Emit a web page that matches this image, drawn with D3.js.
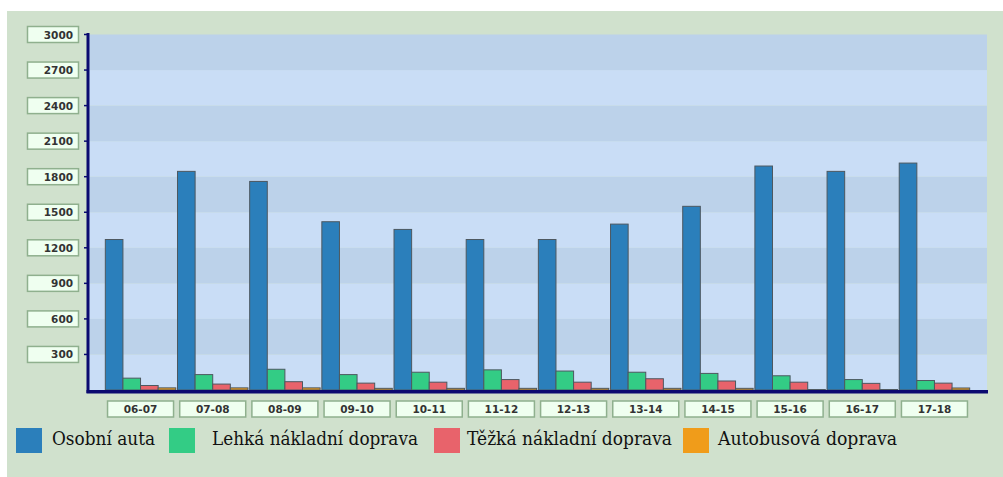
<!DOCTYPE html>
<html><head><meta charset="utf-8">
<script src="https://cdn.jsdelivr.net/npm/d3@7"></script>
<style>html,body{margin:0;padding:0;background:#fff;}svg{display:block;}
.lgt{font-family:"DejaVu Serif",serif;}</style>
</head><body>
<svg id="c" width="1003" height="477"></svg>
<script>
const categories = ["06-07","07-08","08-09","09-10","10-11","11-12","12-13","13-14","14-15","15-16","16-17","17-18"];
const seriesNames = ["Osobní auta","Lehká nákladní doprava","Těžká nákladní doprava","Autobusová doprava"];
const osobniAuta   = [1270,1845,1760,1420,1355,1270,1270,1400,1550,1890,1845,1915];
const lehkaNakladni = [100,130,175,130,150,170,160,150,140,120,88,80];
const tezkaNakladni = [38,50,70,58,66,88,66,95,76,66,56,58];
const autobusova    = [18,18,18,14,14,14,14,14,14,4,4,17];
const yTicks = [300,600,900,1200,1500,1800,2100,2400,2700,3000];
const colors = ["#2b7fbb","#33cc85","#e8636b","#f09c1a"];
const seriesValues = [osobniAuta, lehkaNakladni, tezkaNakladni, autobusova];

(function(){
const svg = d3.select("#c");
svg.append("rect").attr("x",7).attr("y",11).attr("width",996).attr("height",466).attr("fill","#d0e1cd");

const pL = 88, pR = 987, pT = 34.5, pB = 390;
const y = d3.scaleLinear().domain([0,3000]).range([pB, pT]);
const x0 = d3.scaleBand().domain(categories).range([pL, pR]).paddingInner(0.024).paddingOuter(0.24);
const x1 = d3.scaleBand().domain(d3.range(seriesNames.length)).range([0, x0.bandwidth()]).padding(0);

const bandEdges = [0].concat(yTicks);
for (let i = 0; i < bandEdges.length - 1; i++) {
  svg.append("rect")
    .attr("x", pL).attr("width", pR - pL)
    .attr("y", y(bandEdges[i+1])).attr("height", y(bandEdges[i]) - y(bandEdges[i+1]))
    .attr("fill", i % 2 === 1 ? "#bcd2ea" : "#c9ddf6");
}

const g = svg.append("g");
categories.forEach((c, ci) => {
  seriesValues.forEach((vals, si) => {
    const v = vals[ci];
    g.append("rect")
      .attr("x", x0(c) + x1(si))
      .attr("y", y(v))
      .attr("width", x1.bandwidth())
      .attr("height", y(0) - y(v))
      .attr("fill", colors[si])
      .attr("stroke", "#4d5860").attr("stroke-width", 1);
  });
});

const yl = svg.append("g");
yTicks.forEach(t => {
  const yy = y(t);
  yl.append("rect").attr("x", 27.5).attr("y", yy - 8).attr("width", 51).attr("height", 16)
    .attr("fill", "#effff0").attr("stroke", "#8fb08e").attr("stroke-width", 1.5);
  yl.append("text").attr("x", 73).attr("y", yy + 4).attr("text-anchor", "end")
    .attr("font-family", "DejaVu Sans").attr("font-size", 10.5).attr("font-weight", "bold")
    .attr("fill", "#333").text(t);
  yl.append("line").attr("x1", 84).attr("x2", 88).attr("y1", yy).attr("y2", yy)
    .attr("stroke", "#0a0a70").attr("stroke-width", 1.5);
});

svg.append("line").attr("x1", pL).attr("x2", pL).attr("y1", pT - 1.5).attr("y2", pB + 3)
  .attr("stroke", "#0a0a70").attr("stroke-width", 3);
svg.append("line").attr("x1", pL - 1.5).attr("x2", pR + 1).attr("y1", pB + 1.8).attr("y2", pB + 1.8)
  .attr("stroke", "#0a0a70").attr("stroke-width", 3.5);

const xl = svg.append("g");
categories.forEach(c => {
  const cx = x0(c) + x0.bandwidth() / 2;
  xl.append("rect").attr("x", cx - 33).attr("y", 401).attr("width", 66).attr("height", 16)
    .attr("fill", "#effff0").attr("stroke", "#8fb08e").attr("stroke-width", 1.5);
  xl.append("text").attr("x", cx).attr("y", 413).attr("text-anchor", "middle")
    .attr("font-family", "DejaVu Sans").attr("font-size", 10.5).attr("font-weight", "bold")
    .attr("fill", "#333").text(c);
});

const legendX = [16, 169, 434, 683];
const legendTextGap = [10, 17, 7, 9];
const legendTextW = [103, 206, 205, 179];
const lg = svg.append("g");
seriesNames.forEach((n, i) => {
  lg.append("rect").attr("x", legendX[i]).attr("y", 428).attr("width", 26).attr("height", 25).attr("fill", colors[i]);
  lg.append("text").attr("class", "lgt").attr("x", legendX[i] + 26 + legendTextGap[i]).attr("y", 445)
    .attr("font-size", 19).attr("fill", "#111")
    .attr("textLength", legendTextW[i]).attr("lengthAdjust", "spacingAndGlyphs").text(n);
});
})();
</script>
</body></html>
